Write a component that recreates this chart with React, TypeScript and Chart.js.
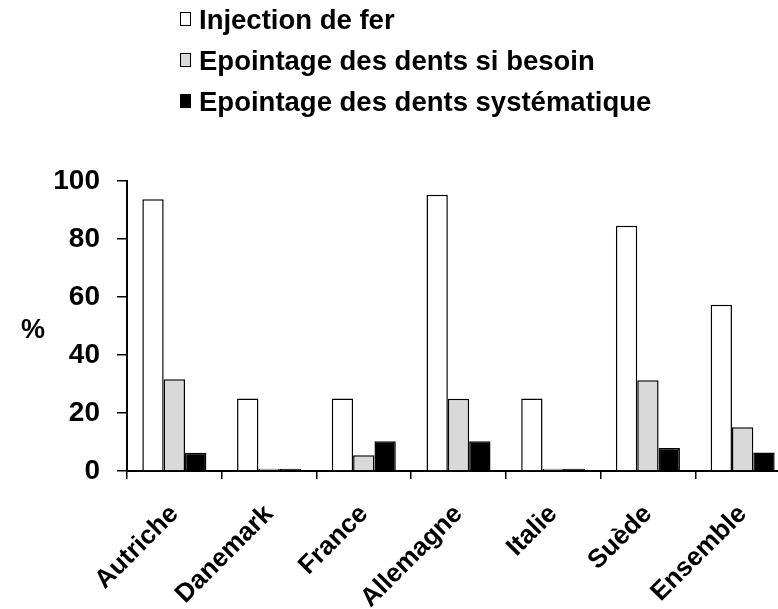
import React, { useEffect, useRef } from 'react';
import { Chart, registerables } from 'chart.js';

Chart.register(...registerables);

const categories = ['Autriche', 'Danemark', 'France', 'Allemagne', 'Italie', 'Suède', 'Ensemble'];
const seriesNames = ['Injection de fer', 'Epointage des dents si besoin', 'Epointage des dents systématique'];
const injectionFer = [93.7, 25, 25, 95.3, 25, 84.6, 57.3];
const epointageBesoin = [31.6, 0.8, 5.4, 24.9, 0.8, 31.3, 15.1];
const epointageSystematique = [6.3, 0.8, 10.3, 10.3, 0.8, 7.9, 6.4];
const seriesColors = ['#ffffff', '#d9d9d9', '#000000'];
const yTicks = [0, 20, 40, 60, 80, 100];
const yTitle = '%';

const FONT = '"Liberation Sans", Arial, Helvetica, sans-serif';

const stackedLegend = {
  id: 'stackedLegend',
  afterDraw(chart: any) {
    const ctx = chart.ctx;
    ctx.save();
    ctx.font = `bold 27.5px ${FONT}`;
    ctx.textBaseline = 'alphabetic';
    ctx.textAlign = 'left';
    chart.data.datasets.forEach((ds: any, i: number) => {
      const baseY = 29 + i * 41;
      ctx.fillStyle = ds.backgroundColor;
      ctx.fillRect(180, baseY - 17, 11, 14);
      ctx.strokeStyle = '#000';
      ctx.lineWidth = 1;
      ctx.strokeRect(180.5, baseY - 16.5, 10, 13);
      ctx.fillStyle = '#000';
      ctx.fillText(ds.label, 199, baseY);
    });
    ctx.restore();
  },
};

const yTitlePlugin = {
  id: 'yTitlePlugin',
  afterDraw(chart: any) {
    const { ctx, chartArea } = chart;
    ctx.save();
    ctx.font = `bold 27px ${FONT}`;
    ctx.fillStyle = '#000';
    ctx.textAlign = 'center';
    ctx.textBaseline = 'middle';
    ctx.fillText(yTitle, chartArea.left - 94, (chartArea.top + chartArea.bottom) / 2 + 5);
    ctx.restore();
  },
};

export default function App() {
  const ref = useRef<HTMLCanvasElement>(null);
  useEffect(() => {
    if (!ref.current) return;
    const chart = new Chart(ref.current, {
      type: 'bar',
      data: {
        labels: categories,
        datasets: [
          { label: seriesNames[0], data: injectionFer, backgroundColor: seriesColors[0], borderColor: '#000', borderWidth: 1.5 },
          { label: seriesNames[1], data: epointageBesoin, backgroundColor: seriesColors[1], borderColor: '#000', borderWidth: 1.5 },
          { label: seriesNames[2], data: epointageSystematique, backgroundColor: seriesColors[2], borderColor: '#000', borderWidth: 1.5 },
        ],
      },
      options: {
        responsive: false,
        animation: false,
        devicePixelRatio: 1,
        datasets: { bar: { categoryPercentage: 0.676, barPercentage: 1 } },
        layout: { padding: { top: 181, right: 10, left: 0, bottom: 0 } },
        plugins: { legend: { display: false }, tooltip: { enabled: false } },
        scales: {
          x: {
            grid: { offset: true, drawOnChartArea: false, drawTicks: true, tickLength: 8, color: '#000', lineWidth: 1.5 },
            border: { display: true, color: '#000', width: 2 },
            ticks: {
              autoSkip: false,
              maxRotation: 45,
              minRotation: 45,
              color: '#000',
              padding: 20,
              font: { family: FONT, size: 26, weight: 'bold' },
            },
            afterFit: (scale: any) => { scale.height = 609 - 471; },
          },
          y: {
            min: 0,
            max: 100,
            afterBuildTicks: (scale: any) => { scale.ticks = yTicks.map((v) => ({ value: v })); },
            grid: { drawOnChartArea: false, drawTicks: true, tickLength: 10, color: '#000', lineWidth: 1.5 },
            border: { display: true, color: '#000', width: 2 },
            ticks: { color: '#000', padding: 17, font: { family: FONT, size: 28, weight: 'bold' } },
            afterFit: (scale: any) => { scale.width = 127; },
          },
        },
      },
      plugins: [stackedLegend, yTitlePlugin],
    } as any);
    return () => chart.destroy();
  }, []);
  return (
    <div style={{ position: 'fixed', left: 0, top: 0, width: 778, height: 609, overflow: 'hidden', background: '#fff' }}>
      <canvas ref={ref} width={800} height={609} style={{ display: 'block' }} />
    </div>
  );
}
